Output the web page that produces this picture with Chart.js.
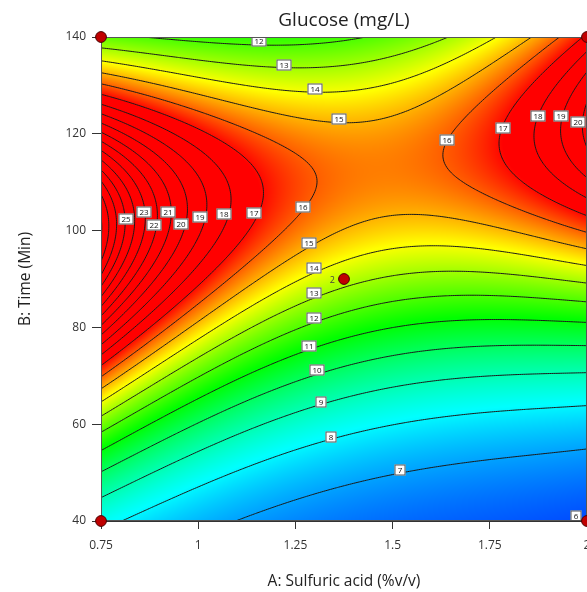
<!DOCTYPE html>
<html><head><meta charset="utf-8">
<script src="https://cdn.jsdelivr.net/npm/chart.js@4.4.1/dist/chart.umd.min.js"></script>
<style>
html,body{margin:0;padding:0;background:#fff;overflow:hidden;width:587px;height:592px;}
#wrap{position:absolute;left:0;top:0;width:610px;height:592px;}
</style></head><body>
<div id="wrap"><canvas id="c" width="610" height="592"></canvas></div>
<script>
// ---------------- data ----------------
const xTicks = [0.75, 1, 1.25, 1.5, 1.75, 2];
const yTicks = [40, 60, 80, 100, 120, 140];
// design points (A, B) and replicate count
const designA = [0.75, 0.75, 2, 2, 1.375];
const designB = [40, 140, 140, 40, 90];
const designReps = [1, 1, 1, 1, 2];
// contour levels drawn
const contourLevels = [6,7,8,9,10,11,12,13,14,15,16,17,18,19,20,21,22,23,24,25,26,27,28];
// contour label positions (A, B) and their level
const labelA = [1.972,1.519,1.342,1.316,1.306,1.285,1.298,1.298,1.298,1.285,1.270,1.144,1.066,1.005,0.956,0.922,0.886,0.861,0.814,1.156,1.221,1.300,1.362,1.640,1.784,1.874,1.933,1.977];
const labelB = [41.0,50.5,57.4,64.6,71.2,76.2,81.9,87.1,92.3,97.4,104.9,103.6,103.4,102.8,101.4,103.8,101.2,103.8,102.4,139.2,134.2,129.3,123.1,118.7,121.2,123.7,123.7,122.4];
const labelV = [6,7,8,9,10,11,12,13,14,15,16,17,18,19,20,21,22,23,25,12,13,14,15,16,17,18,19,20];
// points (A, B, glucose value)
const ptA = [
  0.75,0.75,0.75,0.75,0.75,0.75,0.75,0.75,0.75,0.75,0.75,0.75,0.75,
  0.75,0.75,0.75,0.75,0.75,0.75,0.75,0.75,0.75,0.75,0.75,0.75,0.75,0.75,0.75,0.75,0.75,0.75,
  0.804,1.090,1.5,1.75,1.905,
  2,2,2,2,2,2,2,2,2,2,2,2,2,2,2,2,
  0.868,1.460,1.673,1.794,1.879,1.949,1.987,
  1.005,1.005,1.005,
  1.519,1.519,1.519,1.519,1.519,1.519,1.519,1.519,1.519,1.519,1.519,1.519,
  1.308,1.005,1.177,1.151,1.082,1.630,1.691,1.802,1.732,1.781,1.828,1.913,1.846,1.869,1.913,1.923,1.931,1.964,1.979,1.468,
  1.280,1.295,1.005,1.005,1.005
];
const ptB = [
  138.3,135.5,132.8,130.3,127.8,125.7,123.7,121.8,120.0,118.1,116.2,114.2,112.1,
  85.7,84.2,82.6,81.1,79.5,77.8,76.0,74.3,72.6,70.8,68.5,65.6,62.1,58.8,54.9,50.3,45.0,40.0,
  40,40,40,40,40,
  40.6,53.6,63.3,69.8,75.7,81.1,86.1,90.2,93.9,98.5,101.8,103.2,105.7,108.4,112.5,125.5,
  140,140,140,140,140,140,140,
  47.0,54.3,60.5,
  49.5,59.8,67.5,74.1,79.9,85.2,90.8,96.4,103.2,123.9,130.7,136.3,
  110.5,123.5,118.7,89.8,89.8,115.0,110.0,106.3,131.1,117.1,111.1,106.3,131.7,118.7,110.9,133.2,118.7,111.9,118.7,112.5,
  114.0,106.9,127.6,131.1,135.2
];
const ptV = [
  13,14,15,16,17,18,19,20,21,22,23,24,25,
  25,24,23,22,21,20,19,18,17,16,15,14,13,12,11,10,9,8.4,
  8,7,6.4,6.2,6,
  6,7,8,9,10,11,12,13,14,15,16,17,18,19,20,20,
  12,12,13,14,15,16,17,
  8,9,10,
  7,8,9,10,11,12,13,14,15,15,14,13,
  16,16,16,16,17,16,16,16,16,17,17,17,17,18,18,18,19,19,20,15.7,
  16,16,15,14,13
];

// ---------------- response surface fitted to the readings ----------------
const FIT_DEG = 4;
function coded(A,B){ return [(A-1.375)/0.625, (B-90)/50]; }
function basis(a,b){ const r=[]; for(let i=0;i<=FIT_DEG;i++) for(let j=0;j<=FIT_DEG-i;j++) r.push(Math.pow(a,i)*Math.pow(b,j)); return r; }
function solve(M,r){
  const n=r.length;
  for(let c=0;c<n;c++){
    let p=c; for(let i=c+1;i<n;i++) if(Math.abs(M[i][c])>Math.abs(M[p][c])) p=i;
    [M[c],M[p]]=[M[p],M[c]]; [r[c],r[p]]=[r[p],r[c]];
    for(let i=c+1;i<n;i++){ const f=M[i][c]/M[c][c]; for(let j=c;j<n;j++) M[i][j]-=f*M[c][j]; r[i]-=f*r[c]; }
  }
  const x=new Array(n).fill(0);
  for(let i=n-1;i>=0;i--){ let s=r[i]; for(let j=i+1;j<n;j++) s-=M[i][j]*x[j]; x[i]=s/M[i][i]; }
  return x;
}
const allA = ptA.concat(labelA), allB = ptB.concat(labelB), allV = ptV.concat(labelV);
const nb = basis(0,0).length;
const M = Array.from({length:nb},()=>new Array(nb).fill(0)), R = new Array(nb).fill(0);
for(let k=0;k<allA.length;k++){
  const [a,b]=coded(allA[k],allB[k]); const f=basis(a,b); const y=1/allV[k];
  for(let i=0;i<nb;i++){ R[i]+=f[i]*y; for(let j=0;j<nb;j++) M[i][j]+=f[i]*f[j]; }
}
for(let i=0;i<nb;i++) M[i][i]+=1e-10;
const coef = solve(M,R);
function model(A,B){
  const [a,b]=coded(A,B); const f=basis(a,b); let g=0;
  for(let i=0;i<nb;i++) g+=coef[i]*f[i];
  if(g<0.02) g=0.02;
  return 1/g;
}

// ---------------- drawing ----------------
const FONT = "'Open Sans', 'Noto Sans', sans-serif";
const stops = [[5.1,[0,0,255]],[8.1,[0,255,255]],[11.1,[0,255,0]],[14.1,[255,255,0]],[17.1,[255,0,0]]];
function colorFor(v){
  if(v<=stops[0][0]) return stops[0][1];
  for(let i=1;i<stops.length;i++){
    if(v<=stops[i][0]){ const t=(v-stops[i-1][0])/(stops[i][0]-stops[i-1][0]); const c0=stops[i-1][1], c1=stops[i][1];
      return [c0[0]+(c1[0]-c0[0])*t, c0[1]+(c1[1]-c0[1])*t, c0[2]+(c1[2]-c0[2])*t]; }
  }
  return stops[stops.length-1][1];
}
function segmentsFor(grid, gA, gB, level){
  const segs=[]; const nx=gA.length-1, ny=gB.length-1;
  for(let j=0;j<ny;j++) for(let i=0;i<nx;i++){
    const c=[[gA[i],gB[j],grid[j][i]],[gA[i+1],gB[j],grid[j][i+1]],[gA[i+1],gB[j+1],grid[j+1][i+1]],[gA[i],gB[j+1],grid[j+1][i]]];
    const pts=[];
    for(let e=0;e<4;e++){ const p=c[e], q=c[(e+1)%4];
      if((p[2]-level)*(q[2]-level)<0){ const t=(level-p[2])/(q[2]-p[2]); pts.push([p[0]+(q[0]-p[0])*t, p[1]+(q[1]-p[1])*t]); } }
    if(pts.length===2) segs.push([pts[0],pts[1]]);
    else if(pts.length===4){ const mid=(c[0][2]+c[1][2]+c[2][2]+c[3][2])/4;
      if((mid-level)*(c[0][2]-level)>0){ segs.push([pts[0],pts[1]]); segs.push([pts[2],pts[3]]); }
      else { segs.push([pts[0],pts[3]]); segs.push([pts[1],pts[2]]); } }
  }
  return segs;
}
const surfacePlugin = {
  id:'surface',
  beforeDatasetsDraw(chart){
    const ctx=chart.ctx, ca=chart.chartArea, xs=chart.scales.x, ys=chart.scales.y;
    const w=Math.round(ca.right-ca.left), h=Math.round(ca.bottom-ca.top);
    const off=document.createElement('canvas'); off.width=w; off.height=h;
    const octx=off.getContext('2d'); const img=octx.createImageData(w,h);
    for(let py=0;py<h;py++){
      const B=ys.getValueForPixel(ca.top+py+0.5);
      for(let px=0;px<w;px++){
        const A=xs.getValueForPixel(ca.left+px+0.5);
        const col=colorFor(model(A,B)); const k=(py*w+px)*4;
        img.data[k]=col[0]; img.data[k+1]=col[1]; img.data[k+2]=col[2]; img.data[k+3]=255;
      }
    }
    octx.putImageData(img,0,0);
    ctx.save();
    ctx.drawImage(off, ca.left, ca.top);
    ctx.beginPath(); ctx.rect(ca.left,ca.top,ca.right-ca.left,ca.bottom-ca.top); ctx.clip();
    const N=260, gA=[], gB=[];
    for(let i=0;i<=N;i++){ gA.push(0.75+1.25*i/N); gB.push(40+100*i/N); }
    const grid=gB.map(B=>gA.map(A=>model(A,B)));
    ctx.strokeStyle='#1a1a1a'; ctx.lineWidth=1;
    ctx.beginPath();
    for(const lv of contourLevels){
      for(const s of segmentsFor(grid,gA,gB,lv)){
        ctx.moveTo(xs.getPixelForValue(s[0][0]), ys.getPixelForValue(s[0][1]));
        ctx.lineTo(xs.getPixelForValue(s[1][0]), ys.getPixelForValue(s[1][1]));
      }
    }
    ctx.stroke();
    ctx.font="8px "+FONT; ctx.textAlign='center'; ctx.textBaseline='middle';
    for(let k=0;k<labelV.length;k++){
      const x=Math.round(xs.getPixelForValue(labelA[k])), y=Math.round(ys.getPixelForValue(labelB[k]));
      const t=String(labelV[k]); const tw=ctx.measureText(t).width; const bw=Math.round(tw+6), bh=11;
      ctx.fillStyle='#fff'; ctx.fillRect(x-bw/2,y-bh/2,bw,bh);
      ctx.strokeStyle='#555'; ctx.strokeRect(x-bw/2+0.5,y-bh/2+0.5,bw-1,bh-1);
      ctx.fillStyle='#111'; ctx.fillText(t,x,y+0.5);
    }
    ctx.restore();
    ctx.save(); ctx.strokeStyle='#555'; ctx.lineWidth=1;
    ctx.strokeRect(Math.round(ca.left)+0.5, Math.round(ca.top)+0.5, Math.round(ca.right-ca.left)-1, Math.round(ca.bottom-ca.top)-1);
    ctx.restore();
  },
  afterDatasetsDraw(chart){
    const ctx=chart.ctx, xs=chart.scales.x, ys=chart.scales.y;
    ctx.save(); ctx.font="9px "+FONT; ctx.fillStyle='#444'; ctx.textAlign='right'; ctx.textBaseline='middle';
    for(let k=0;k<designA.length;k++){
      if(designReps[k]>1) ctx.fillText(String(designReps[k]), xs.getPixelForValue(designA[k])-9, ys.getPixelForValue(designB[k])+1);
    }
    ctx.restore();
  }
};

const chart = new Chart(document.getElementById('c'), {
  type:'scatter',
  data:{datasets:[{data:designA.map((a,i)=>({x:a,y:designB[i]})), pointRadius:5.4, pointHoverRadius:5.4,
    backgroundColor:'#c00000', borderColor:'#4a0000', borderWidth:1, clip:false}]},
  options:{
    responsive:false, animation:false, devicePixelRatio:1, events:[],
    layout:{padding:{left:16,right:23,top:0,bottom:2}},
    plugins:{legend:{display:false}, tooltip:{enabled:false},
      title:{display:true, text:'Glucose (mg/L)', fullSize:false, color:'#222', font:{family:FONT,size:19,weight:'normal'}, padding:{top:8,bottom:5}}},
    scales:{
      x:{type:'linear', min:0.75, max:2,
        afterBuildTicks:s=>{ s.ticks=xTicks.map(v=>({value:v})); },
        ticks:{callback:v=>String(v), color:'#333', font:{family:FONT,size:12}, padding:9, maxRotation:0, autoSkip:false},
        grid:{drawOnChartArea:false, drawTicks:true, tickLength:8, color:'#333'},
        border:{display:true, color:'#333'},
        title:{display:true, text:'A: Sulfuric acid (%v/v)', color:'#222', font:{family:FONT,size:15.5}, padding:{top:11,bottom:0}}},
      y:{type:'linear', min:40, max:140,
        afterBuildTicks:s=>{ s.ticks=yTicks.map(v=>({value:v})); },
        ticks:{callback:v=>String(v), color:'#333', font:{family:FONT,size:12}, padding:6, autoSkip:false},
        grid:{drawOnChartArea:false, drawTicks:true, tickLength:9, color:'#333'},
        border:{display:true, color:'#333'},
        title:{display:true, text:'B: Time (Min)', color:'#222', font:{family:FONT,size:15.5}, padding:{top:0,bottom:25}}}
    }
  },
  plugins:[surfacePlugin]
});
for(let it=0;it<5;it++){
  const ca=chart.chartArea, p=chart.options.layout.padding;
  const dl=101-ca.left, dt=37-ca.top, dr=ca.right-587, db=ca.bottom-521;
  if(Math.abs(dl)<0.3&&Math.abs(dt)<0.3&&Math.abs(dr)<0.3&&Math.abs(db)<0.3) break;
  p.left+=dl; p.top+=dt; p.right+=dr; p.bottom+=db;
  chart.update('none');
}
</script>
</body></html>
